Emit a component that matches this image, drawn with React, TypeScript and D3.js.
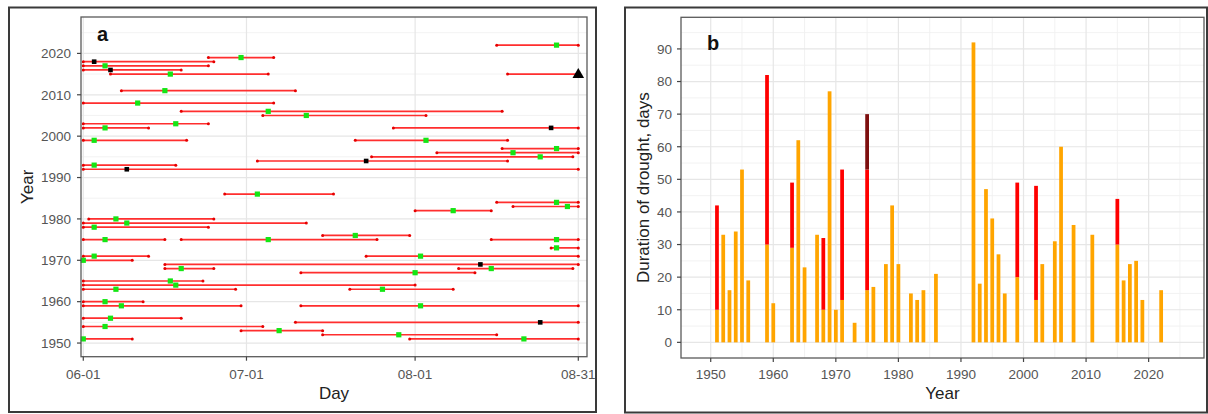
import React from "react";
import * as d3 from "d3";

// ---- Panel a: summer drought episodes (day 0 = 1 June) ----
const eventYear = [
  1951, 1951, 1952, 1953, 1954, 1955, 1956, 1959, 1959, 1960, 1963, 1963, 1964, 1965,
  1967, 1968, 1968, 1969, 1970, 1971, 1971, 1973, 1975, 1975, 1975, 1976, 1978, 1979,
  1980, 1982, 1983, 1984, 1986, 1992, 1993, 1994, 1995, 1996, 1997, 1999, 1999, 2002,
  2002, 2003, 2005, 2006, 2008, 2011, 2015, 2015, 2016, 2017, 2018, 2019, 2022,
];
const eventStart = [
  0, 60, 44, 29, 0, 39, 0, 0, 40, 0, 0, 49, 0, 0,
  40, 15, 69, 15, 0, 0, 52, 86, 0, 18, 75, 44, 0, 0,
  1, 61, 79, 76, 26, 0, 0, 32, 53, 65, 77, 0, 50, 0,
  57, 0, 33, 18, 0, 7, 5, 78, 0, 0, 0, 23, 76,
];
const eventEnd = [
  9, 91, 76, 44, 33, 91, 18, 29, 91, 11, 28, 68, 61, 22,
  72, 24, 90, 91, 9, 12, 91, 91, 15, 54, 91, 60, 23, 41,
  24, 75, 91, 91, 46, 91, 17, 78, 90, 91, 91, 19, 78, 12,
  91, 23, 63, 77, 35, 39, 34, 91, 18, 23, 24, 35, 91,
];
const markDay = [
  0, 81, 58, 36, 4, 84, 5, 7, 62, 4, 6, 55, 17, 16,
  61, 18, 75, 73, 0, 2, 62, 87, 4, 34, 87, 50, 2, 8,
  6, 68, 89, 87, 32, 8, 2, 52, 84, 79, 87, 2, 63, 4,
  86, 17, 41, 34, 10, 15, 16, 91, 5, 4, 2, 29, 87,
];
// g = green marker, b = black marker, t = still running at the end of August
const markKind = [
  "g", "g", "g", "g", "g", "b", "g", "g", "g", "g", "g", "g", "g", "g",
  "g", "g", "g", "b", "g", "g", "g", "g", "g", "g", "g", "g", "g", "g",
  "g", "g", "g", "g", "g", "b", "g", "b", "g", "g", "g", "g", "g", "g",
  "b", "g", "g", "g", "g", "g", "g", "t", "b", "g", "b", "g", "g",
];
const dayTickValues = [0, 30, 61, 91];
const dayTickLabels = ["06-01", "07-01", "08-01", "08-31"];
const yearTicksA = [1950, 1960, 1970, 1980, 1990, 2000, 2010, 2020];

// ---- Panel b: drought duration per year, stacked by episode ----
const barYears = [
  1951, 1952, 1953, 1954, 1955, 1956, 1959, 1960, 1963, 1964, 1965, 1967, 1968, 1969,
  1970, 1971, 1973, 1975, 1976, 1978, 1979, 1980, 1982, 1983, 1984, 1986, 1992, 1993,
  1994, 1995, 1996, 1997, 1999, 2002, 2003, 2005, 2006, 2008, 2011, 2015, 2016, 2017,
  2018, 2019, 2022,
];
const firstEpisode = [
  10, 33, 16, 34, 53, 19, 30, 12, 29, 62, 23, 33, 10, 77,
  10, 13, 6, 16, 17, 24, 42, 24, 15, 13, 16, 21, 92, 18,
  47, 38, 27, 15, 20, 13, 24, 31, 60, 36, 33, 30, 19, 24,
  25, 13, 16,
];
const secondEpisode = [
  32, 0, 0, 0, 0, 0, 52, 0, 20, 0, 0, 0, 22, 0,
  0, 40, 0, 37, 0, 0, 0, 0, 0, 0, 0, 0, 0, 0,
  0, 0, 0, 0, 29, 35, 0, 0, 0, 0, 0, 14, 0, 0,
  0, 0, 0,
];
const thirdEpisode = [
  0, 0, 0, 0, 0, 0, 0, 0, 0, 0, 0, 0, 0, 0,
  0, 0, 0, 17, 0, 0, 0, 0, 0, 0, 0, 0, 0, 0,
  0, 0, 0, 0, 0, 0, 0, 0, 0, 0, 0, 0, 0, 0,
  0, 0, 0,
];
const yearTicksB = [1950, 1960, 1970, 1980, 1990, 2000, 2010, 2020];
const durationTicks = [0, 10, 20, 30, 40, 50, 60, 70, 80, 90];

const FONT = "'Liberation Sans', Arial, sans-serif";
const TICK_COLOR = "#555";
const GRID_MAJOR = "#e6e6e6";
const GRID_MINOR = "#f0f0f0";

export default function App() {
  // panel a scales
  const ax = d3.scaleLinear().domain([-0.42, 92.6]).range([81, 587]);
  const ay = d3.scaleLinear().domain([1946.7, 2028.8]).range([356.7, 17]);
  const [axL, axR] = ax.range();
  const [ayB, ayT] = ay.range();

  // panel b scales
  const bx = d3.scaleLinear().domain([1945.25, 2028.85]).range([681, 1204]);
  const by = d3.scaleLinear().domain([-4.8, 99.7]).range([358, 17.3]);
  const [bxL, bxR] = bx.range();
  const [byB, byT] = by.range();

  const minorYearsA = d3.range(1955, 2028, 10);
  const minorYearsB = d3.range(1955, 2028, 10);
  const minorDur = d3.range(5, 100, 10);
  const barHalf = 0.3;

  const stacks = barYears.map((yr, i) => {
    const a = firstEpisode[i];
    const b = secondEpisode[i];
    const c = thirdEpisode[i];
    return [
      { yr, y0: 0, y1: a, color: "#ffa500" },
      { yr, y0: a, y1: a + b, color: "#ff0000" },
      { yr, y0: a + b, y1: a + b + c, color: "#7d0f0f" },
    ].filter((s) => s.y1 > s.y0);
  });

  return (
    <svg
      width={1208}
      height={414}
      style={{ position: "absolute", left: 0, top: 0, background: "#fff" }}
      fontFamily={FONT}
    >
      {/* ================= Panel a ================= */}
      <rect x={9} y={7.5} width={587} height={404.5} fill="none" stroke="#3a3a3a" strokeWidth={2} />
      <g>
        {minorYearsA.map((y) => (
          <line key={"amy" + y} x1={axL} x2={axR} y1={ay(y)} y2={ay(y)} stroke={GRID_MINOR} strokeWidth={0.9} />
        ))}
        {yearTicksA.map((y) => (
          <line key={"aMy" + y} x1={axL} x2={axR} y1={ay(y)} y2={ay(y)} stroke={GRID_MAJOR} strokeWidth={1.2} />
        ))}
        {dayTickValues.map((d) => (
          <line key={"aMx" + d} x1={ax(d)} x2={ax(d)} y1={ayT} y2={ayB} stroke={GRID_MAJOR} strokeWidth={1.2} />
        ))}
      </g>
      <g>
        {eventYear.map((yr, i) => {
          const y = ay(yr);
          return (
            <g key={"seg" + i}>
              <line x1={ax(eventStart[i])} x2={ax(eventEnd[i])} y1={y} y2={y} stroke="#ff2e2e" strokeWidth={1.7} />
              <circle cx={ax(eventStart[i])} cy={y} r={1.5} fill="#e60000" />
              <circle cx={ax(eventEnd[i])} cy={y} r={1.5} fill="#e60000" />
            </g>
          );
        })}
        {eventYear.map((yr, i) => {
          const x = ax(markDay[i]);
          const y = ay(yr);
          const k = markKind[i];
          if (k === "t") {
            return (
              <path
                key={"mk" + i}
                d={`M${x},${y - 6} L${x - 5.8},${y + 4} L${x + 5.8},${y + 4} Z`}
                fill="#000"
              />
            );
          }
          const s = k === "g" ? 5.2 : 4.6;
          return (
            <rect
              key={"mk" + i}
              x={x - s / 2}
              y={y - s / 2}
              width={s}
              height={s}
              fill={k === "g" ? "#14e614" : "#000"}
            />
          );
        })}
      </g>
      <rect x={axL} y={ayT} width={axR - axL} height={ayB - ayT} fill="none" stroke="#5a5a5a" strokeWidth={1.3} />
      {/* axes a */}
      <g fontSize={13.5} fill={TICK_COLOR}>
        {yearTicksA.map((y) => (
          <g key={"ayt" + y}>
            <line x1={axL - 4} x2={axL} y1={ay(y)} y2={ay(y)} stroke="#444" strokeWidth={1.2} />
            <text x={axL - 10} y={ay(y) + 4.8} textAnchor="end">{y}</text>
          </g>
        ))}
        {dayTickValues.map((d, i) => (
          <g key={"axt" + d}>
            <line x1={ax(d)} x2={ax(d)} y1={ayB} y2={ayB + 4} stroke="#444" strokeWidth={1.2} />
            <text x={ax(d)} y={379} textAnchor="middle">{dayTickLabels[i]}</text>
          </g>
        ))}
      </g>
      <text x={(axL + axR) / 2} y={399} textAnchor="middle" fontSize={17} fill="#222">Day</text>
      <text
        transform={`translate(33, ${(ayT + ayB) / 2}) rotate(-90)`}
        textAnchor="middle"
        fontSize={17}
        fill="#222"
      >
        Year
      </text>
      <text x={97} y={41} fontSize={20} fontWeight="bold" fill="#111">a</text>

      {/* ================= Panel b ================= */}
      <rect x={625} y={7.5} width={582} height={405} fill="none" stroke="#3a3a3a" strokeWidth={2} />
      <g>
        {minorDur.map((v) => (
          <line key={"bmy" + v} x1={bxL} x2={bxR} y1={by(v)} y2={by(v)} stroke={GRID_MINOR} strokeWidth={0.9} />
        ))}
        {minorYearsB.map((v) => (
          <line key={"bmx" + v} x1={bx(v)} x2={bx(v)} y1={byT} y2={byB} stroke={GRID_MINOR} strokeWidth={0.9} />
        ))}
        {durationTicks.map((v) => (
          <line key={"bMy" + v} x1={bxL} x2={bxR} y1={by(v)} y2={by(v)} stroke={GRID_MAJOR} strokeWidth={1.2} />
        ))}
        {yearTicksB.map((v) => (
          <line key={"bMx" + v} x1={bx(v)} x2={bx(v)} y1={byT} y2={byB} stroke={GRID_MAJOR} strokeWidth={1.2} />
        ))}
      </g>
      <g>
        {stacks.flat().map((s, i) => (
          <rect
            key={"bar" + i}
            x={bx(s.yr - barHalf)}
            width={bx(s.yr + barHalf) - bx(s.yr - barHalf)}
            y={by(s.y1)}
            height={by(s.y0) - by(s.y1)}
            fill={s.color}
          />
        ))}
      </g>
      <rect x={bxL} y={byT} width={bxR - bxL} height={byB - byT} fill="none" stroke="#5a5a5a" strokeWidth={1.3} />
      <g fontSize={13.5} fill={TICK_COLOR}>
        {durationTicks.map((v) => (
          <g key={"byt" + v}>
            <line x1={bxL - 4} x2={bxL} y1={by(v)} y2={by(v)} stroke="#444" strokeWidth={1.2} />
            <text x={bxL - 9} y={by(v) + 4.8} textAnchor="end">{v}</text>
          </g>
        ))}
        {yearTicksB.map((v) => (
          <g key={"bxt" + v}>
            <line x1={bx(v)} x2={bx(v)} y1={byB} y2={byB + 4} stroke="#444" strokeWidth={1.2} />
            <text x={bx(v)} y={379} textAnchor="middle">{v}</text>
          </g>
        ))}
      </g>
      <text x={(bxL + bxR) / 2} y={399} textAnchor="middle" fontSize={17} fill="#222">Year</text>
      <text
        transform={`translate(649, ${(byT + byB) / 2}) rotate(-90)`}
        textAnchor="middle"
        fontSize={17}
        fill="#222"
      >
        Duration of drought, days
      </text>
      <text x={707} y={50} fontSize={20} fontWeight="bold" fill="#111">b</text>
    </svg>
  );
}
